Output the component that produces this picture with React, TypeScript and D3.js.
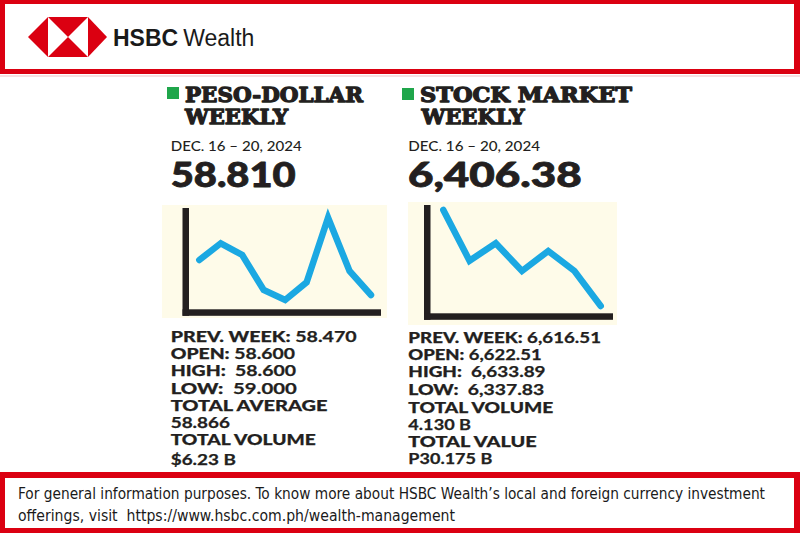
import React from "react";
import * as d3 from "d3";

// ---- data ----
const pesoLevels = [50, 66.7, 55, 20, 10, 27.7, 92.3, 39, 15]; // relative weekly path
const stockLevels = [103, 52.3, 69.7, 42, 62, 42, 7]; // relative weekly path

const titles = [["PESO-DOLLAR", "WEEKLY"], ["STOCK MARKET", "WEEKLY"]];
const dateLabel = "DEC. 16 \u2013 20, 2024";
const headlineValues = ["58.810", "6,406.38"];

const pesoStats: [string, string][] = [
  ["PREV. WEEK: ", "58.470"],
  ["OPEN: ", "58.600"],
  ["HIGH:\u00a0\u00a0", "58.600"],
  ["LOW:\u00a0\u00a0", "59.000"],
  ["TOTAL AVERAGE", ""],
  ["", "58.866"],
  ["TOTAL VOLUME", ""],
  ["", "$6.23 B"],
];
const stockStats: [string, string][] = [
  ["PREV. WEEK: ", "6,616.51"],
  ["OPEN: ", "6,622.51"],
  ["HIGH:\u00a0\u00a0", "6,633.89"],
  ["LOW:\u00a0\u00a0", "6,337.83"],
  ["TOTAL VOLUME", ""],
  ["", "4.130 B"],
  ["TOTAL VALUE", ""],
  ["", "P30.175 B"],
];
const footerLines = [
  "For general information purposes. To know more about HSBC Wealth\u2019s local and foreign currency investment",
  "offerings, visit\u00a0\u00a0https://www.hsbc.com.ph/wealth-management",
];

const RED = "#db0011";
const INK = "#231f20";
const BLUE = "#1ba8e2";
const CREAM = "#fefbe9";
const GREEN = "#1fa64b";
const SANS = "Lato, 'Open Sans', sans-serif";
const SLAB = "'DejaVu Serif', serif";

const pesoStatWidths = [186, 124.3, 125.3, 126, 156.7, 59.3, 145, 65.3];
const stockStatWidths = [192.7, 133.3, 137.3, 136, 145, 62.7, 128.3, 84];
const pesoStatBase = [341.7, 359, 376.3, 393.5, 410.8, 428.2, 445.3, 465];
const stockStatBase = [342.7, 360, 377.3, 395, 412.7, 430, 446.8, 464];

function MiniChart(props: {
  values: number[];
  bg: [number, number, number, number];
  axisX: number;
  axisTop: number;
  axisY: number;
  axisRight: number;
  xr: [number, number];
  yDomain: [number, number];
  yRange: [number, number];
}) {
  const { values, bg, axisX, axisTop, axisY, axisRight, xr, yDomain, yRange } = props;
  const x = d3.scaleLinear().domain([0, values.length - 1]).range(xr);
  const y = d3.scaleLinear().domain(yDomain).range(yRange);
  const line = d3
    .line<number>()
    .x((_, i) => x(i))
    .y((d) => y(d));
  return (
    <g>
      <rect x={bg[0]} y={bg[1]} width={bg[2] - bg[0]} height={bg[3] - bg[1]} fill={CREAM} />
      <rect x={axisX} y={axisTop} width={6.5} height={axisY + 6.5 - axisTop} fill={INK} />
      <rect x={axisX} y={axisY} width={axisRight - axisX} height={6.5} fill={INK} />
      <path
        d={line(values) || ""}
        fill="none"
        stroke={BLUE}
        strokeWidth={6.5}
        strokeLinecap="round"
        strokeLinejoin="miter"
      />
    </g>
  );
}

function Stats(props: { x: number; rows: [string, string][]; widths: number[]; bases: number[] }) {
  return (
    <g fontFamily={SANS} fontSize={15} fill={INK} stroke={INK} strokeWidth={0.25}>
      {props.rows.map((r, i) => (
        <text
          key={i}
          x={props.x}
          y={props.bases[i]}
          textLength={props.widths[i]}
          lengthAdjust="spacingAndGlyphs"
        >
          {r[0] && <tspan fontWeight={900}>{r[0]}</tspan>}
          {r[1] && <tspan fontWeight={700}>{r[1]}</tspan>}
        </text>
      ))}
    </g>
  );
}

export default function App() {
  return (
    <svg
      width={800}
      height={533}
      viewBox="0 0 800 533"
      style={{ position: "absolute", left: 0, top: 0, display: "block", background: "#fff" }}
    >
      <rect x={0} y={0} width={800} height={533} fill="#fff" />
      {/* header frame */}
      <rect x={0} y={0} width={800} height={74} fill={RED} />
      <rect x={5} y={4} width={789} height={65} fill="#fff" />
      <rect x={0} y={75} width={800} height={2} fill="#f7dfe1" />
      {/* logo */}
      <g>
        <polygon points="28,37 48,17 48,57" fill={RED} />
        <polygon points="107,37 88,17 88,57" fill={RED} />
        <polygon points="48,17 88,17 68,37" fill={RED} />
        <polygon points="48,57 88,57 68,37" fill={RED} />
      </g>
      <text x={113} y={45.7} fontFamily="'Liberation Sans', Arial, sans-serif" fontSize={23} fill="#1a1a1a">
        <tspan fontWeight={700}>HSBC</tspan>
        <tspan dx={5} fontWeight={400}>Wealth</tspan>
      </text>

      {/* titles */}
      <rect x={167} y={87} width={12} height={12} fill={GREEN} />
      <rect x={402} y={88} width={12} height={12} fill={GREEN} />
      <g fontFamily={SLAB} fontWeight={700} fontSize={21} fill={INK} stroke={INK} strokeWidth={1.3} strokeLinejoin="round">
        <text x={185} y={101.5} textLength={178} lengthAdjust="spacingAndGlyphs">{titles[0][0]}</text>
        <text x={185} y={124.3} textLength={103} lengthAdjust="spacingAndGlyphs">{titles[0][1]}</text>
        <text x={420} y={101.7} textLength={212} lengthAdjust="spacingAndGlyphs">{titles[1][0]}</text>
        <text x={421.5} y={124.3} textLength={103} lengthAdjust="spacingAndGlyphs">{titles[1][1]}</text>
      </g>
      <g fontFamily={SANS} fontWeight={500} fontSize={13.2} fill={INK}>
        <text x={170.7} y={151} textLength={131} lengthAdjust="spacingAndGlyphs">{dateLabel}</text>
        <text x={408.3} y={151} textLength={131.7} lengthAdjust="spacingAndGlyphs">{dateLabel}</text>
      </g>
      <g fontFamily={SANS} fontWeight={900} fontSize={33.5} fill={INK} stroke={INK} strokeWidth={0.8} strokeLinejoin="round">
        <text x={170.7} y={186.7} textLength={125} lengthAdjust="spacingAndGlyphs">{headlineValues[0]}</text>
        <text x={408} y={186.7} textLength={173.7} lengthAdjust="spacingAndGlyphs">{headlineValues[1]}</text>
      </g>

      {/* charts */}
      <MiniChart
        values={pesoLevels}
        bg={[162, 205, 387, 318]}
        axisX={182.5}
        axisTop={208}
        axisY={309.3}
        axisRight={381}
        xr={[199.3, 371]}
        yDomain={[0, 100]}
        yRange={[310, 210]}
      />
      <MiniChart
        values={stockLevels}
        bg={[408, 202, 617, 325]}
        axisX={424}
        axisTop={205}
        axisY={313.3}
        axisRight={613}
        xr={[443.3, 600.7]}
        yDomain={[0, 110]}
        yRange={[313, 203]}
      />

      <Stats x={170.7} rows={pesoStats} widths={pesoStatWidths} bases={pesoStatBase} />
      <Stats x={408.3} rows={stockStats} widths={stockStatWidths} bases={stockStatBase} />

      {/* footer */}
      <rect x={0} y={472} width={800} height={61} fill={RED} />
      <rect x={5} y={478} width={789} height={50} fill="#fff" />
      <g fontFamily="'Liberation Sans Narrow', 'DejaVu Sans Condensed', 'Liberation Sans', sans-serif" fontSize={15} fill="#1a1a1a">
        <text x={18} y={498.5} textLength={747} lengthAdjust="spacingAndGlyphs">{footerLines[0]}</text>
        <text x={18} y={520.5} textLength={437} lengthAdjust="spacingAndGlyphs">{footerLines[1]}</text>
      </g>
    </svg>
  );
}
